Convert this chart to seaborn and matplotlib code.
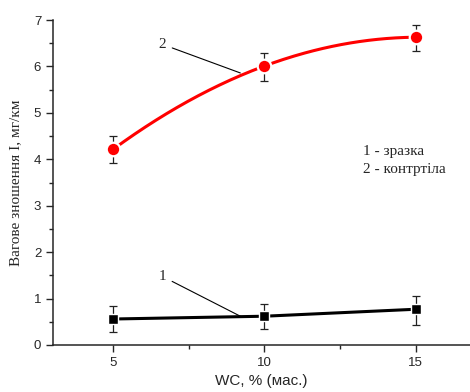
import numpy as np
import pandas as pd
import matplotlib
matplotlib.use("Agg")
import matplotlib.pyplot as plt
import seaborn as sns
from matplotlib.ticker import MultipleLocator

wc = [5, 10, 15]
sample_wear = [0.56, 0.62, 0.77]
sample_err_lo = [0.28, 0.27, 0.34]
sample_err_hi = [0.27, 0.26, 0.28]
counter_wear = [4.22, 6.01, 6.63]
counter_err_lo = [0.30, 0.33, 0.30]
counter_err_hi = [0.28, 0.29, 0.27]
xticks = [5, 10, 15]
yticks = [0, 1, 2, 3, 4, 5, 6, 7]

sns.set_style("ticks")
fig = plt.figure(figsize=(4.7, 3.92), dpi=100)
ax = fig.add_axes([0.1128, 0.1199, 0.887, 0.829])

df1 = pd.DataFrame({"wc": wc, "v": sample_wear})
df2 = pd.DataFrame({"wc": wc, "v": counter_wear})

# error bars
ax.errorbar(wc, sample_wear, yerr=[sample_err_lo, sample_err_hi], fmt="none",
            ecolor="#222222", elinewidth=0.9, capsize=3, capthick=0.9, zorder=2)
ax.errorbar(wc, counter_wear, yerr=[counter_err_lo, counter_err_hi], fmt="none",
            ecolor="#222222", elinewidth=0.9, capsize=3, capthick=0.9, zorder=2)

# sample line (straight segments)
sns.lineplot(data=df1, x="wc", y="v", color="black", linewidth=2.2, ax=ax, zorder=3)
sns.scatterplot(data=df1, x="wc", y="v", marker="s", color="black", s=60,
                edgecolor="white", linewidth=1.0, ax=ax, zorder=4)

# counterbody: smooth curve through the points
coef = np.polyfit(wc, counter_wear, 2)
xs = np.linspace(wc[0], wc[-1], 200)
ax.plot(xs, np.polyval(coef, xs), color="red", linewidth=2.2, zorder=3)
sns.scatterplot(data=df2, x="wc", y="v", marker="o", color="red", s=95,
                edgecolor="white", linewidth=1.6, ax=ax, zorder=4)

ax.set_xlim(3, 16.8)
ax.set_ylim(0, 7)
ax.set_xticks(xticks)
ax.set_yticks(yticks)
ax.xaxis.set_minor_locator(MultipleLocator(2.5))
ax.yaxis.set_minor_locator(MultipleLocator(0.5))
ax.tick_params(which="major", direction="out", length=5, width=1, labelsize=9.5)
ax.tick_params(which="minor", direction="out", length=3, width=1)
for lab in ax.get_xticklabels() + ax.get_yticklabels():
    lab.set_family("Liberation Sans")
sns.despine(ax=ax)
for sp in ["left", "bottom"]:
    ax.spines[sp].set_linewidth(1.1)

ax.set_xlabel("WC, % (мас.)", family="Liberation Sans", fontsize=11, labelpad=4)
ax.set_ylabel("Вагове зношення I, мг/км", family="Liberation Serif", fontsize=11, labelpad=8)

# curve labels with leader lines
ax.annotate("2", xy=(9.2, 5.86), xytext=(6.5, 6.4), fontsize=11, family="Liberation Serif",
            arrowprops=dict(arrowstyle="-", color="black", lw=0.8, shrinkA=2, shrinkB=0))
ax.annotate("1", xy=(9.2, 0.62), xytext=(6.5, 1.4), fontsize=11, family="Liberation Serif",
            arrowprops=dict(arrowstyle="-", color="black", lw=0.8, shrinkA=2, shrinkB=0))

ax.text(13.25, 4.1, "1 - зразка", fontsize=11, family="Liberation Serif")
ax.text(13.25, 3.7, "2 - контртіла", fontsize=11, family="Liberation Serif")

fig.savefig("out.png", dpi=100)
